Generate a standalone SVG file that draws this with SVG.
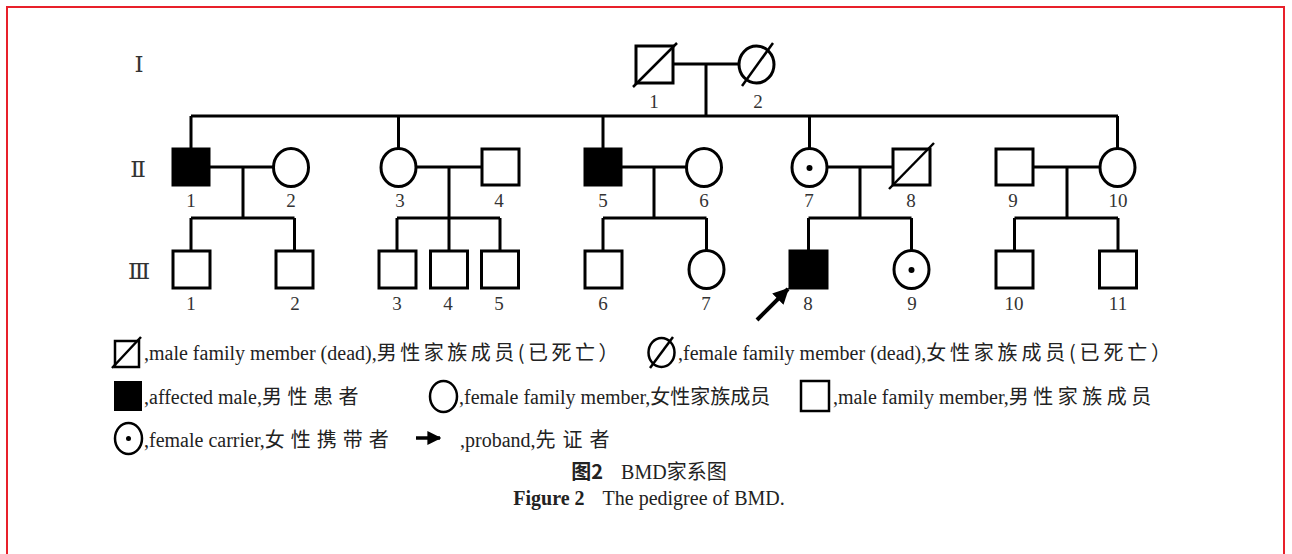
<svg xmlns="http://www.w3.org/2000/svg" width="1292" height="554" viewBox="0 0 1292 554">
<style>
.ln{stroke:#000;stroke-width:3;fill:none}
.sym{stroke:#000;stroke-width:3;fill:#fff}
.aff{stroke:#000;stroke-width:3;fill:#000}
.sl{stroke:#000;stroke-width:2.5}
.dot{fill:#000}
.num{font-family:"Liberation Serif","Noto Sans CJK SC",serif;font-size:19px;fill:#333;text-anchor:middle}
.gen{font-family:"DejaVu Serif","Liberation Serif","Noto Sans CJK SC",serif;font-size:23px;fill:#333;text-anchor:middle}
.lg{font-family:"Liberation Serif","Noto Sans CJK SC",serif;font-size:20px;fill:#222}
.cn{font-family:"Noto Sans CJK SC",sans-serif;font-size:20px;letter-spacing:5px}
.lsym{stroke:#000;stroke-width:2.5;fill:#fff}
.cap{font-family:"Liberation Serif","Noto Sans CJK SC",serif;font-size:20px;fill:#222;text-anchor:middle}
.b{font-weight:bold}
</style>
<defs>
<marker id="ah" viewBox="0 0 10 10" refX="9" refY="5" markerWidth="4" markerHeight="4" orient="auto" markerUnits="strokeWidth">
<path d="M0,0 L10,5 L0,10 Z" fill="#000"/>
</marker>
</defs>
<path d="M7,556 V7 H1284 V556" fill="none" stroke="#e8202a" stroke-width="2"/>

<g id="gen-labels">
<text class="gen" x="139" y="72">Ⅰ</text>
<text class="gen" x="138" y="177">Ⅱ</text>
<text class="gen" x="139" y="279">Ⅲ</text>
</g>

<g id="connectors">
<path class="ln" d="M673,64 H739 M706,64 V116 M191,116 H1118"/>
<path class="ln" d="M191,116 V148 M398.5,116 V148 M603,116 V148 M809.5,116 V148 M1117.5,116 V148"/>
<path class="ln" d="M210,167 H273 M243,167 V218 M191,218 H294.5 M191,218 V251 M294.5,218 V251"/>
<path class="ln" d="M416,167 H482 M449,167 V218 M397,218 H500 M397,218 V251 M449,218 V251 M500,218 V251"/>
<path class="ln" d="M622,167 H686 M654,167 V218 M603,218 H706.5 M603,218 V251 M706.5,218 V250"/>
<path class="ln" d="M827,167 H893 M860,167 V218 M808.5,218 H911.5 M808.5,218 V251 M911.5,218 V250"/>
<path class="ln" d="M1033,167 H1100 M1067,167 V218 M1014.5,218 H1118 M1014.5,218 V251 M1118,218 V251"/>
<line x1="757" y1="320" x2="788" y2="289" stroke="#000" stroke-width="4" marker-end="url(#ah)"/>
</g>

<g id="I-1"><rect class="sym" x="636" y="46" width="37" height="37"/><line class="sl" x1="633" y1="87" x2="677" y2="43"/><text class="num" x="654" y="108">1</text></g>
<g id="I-2"><ellipse class="sym" cx="756.5" cy="64.5" rx="17.5" ry="18.5"/><line class="sl" x1="742" y1="86" x2="773" y2="43"/><text class="num" x="758" y="108">2</text></g>

<g id="II-1"><rect class="aff" x="173" y="149" width="36" height="36"/><text class="num" x="191" y="207">1</text></g>
<g id="II-2"><ellipse class="sym" cx="291" cy="167.5" rx="17.5" ry="19"/><text class="num" x="291" y="207">2</text></g>
<g id="II-3"><ellipse class="sym" cx="398.5" cy="167.5" rx="17.5" ry="19"/><text class="num" x="400" y="207">3</text></g>
<g id="II-4"><rect class="sym" x="482" y="149" width="37" height="36"/><text class="num" x="499" y="207">4</text></g>
<g id="II-5"><rect class="aff" x="585" y="149" width="36" height="36"/><text class="num" x="603" y="207">5</text></g>
<g id="II-6"><ellipse class="sym" cx="704" cy="167.5" rx="17.5" ry="19"/><text class="num" x="704" y="207">6</text></g>
<g id="II-7"><ellipse class="sym" cx="809.5" cy="167.5" rx="17.5" ry="19"/><circle class="dot" cx="809.5" cy="168" r="3"/><text class="num" x="809" y="207">7</text></g>
<g id="II-8"><rect class="sym" x="893" y="149" width="37" height="36"/><line class="sl" x1="889" y1="189" x2="934" y2="143"/><text class="num" x="911" y="207">8</text></g>
<g id="II-9"><rect class="sym" x="996" y="149" width="37" height="36"/><text class="num" x="1013" y="207">9</text></g>
<g id="II-10"><ellipse class="sym" cx="1117.5" cy="167.5" rx="17.5" ry="19"/><text class="num" x="1118" y="207">10</text></g>

<g id="III-1"><rect class="sym" x="173" y="251" width="37" height="37"/><text class="num" x="191" y="310">1</text></g>
<g id="III-2"><rect class="sym" x="276" y="251" width="37" height="37"/><text class="num" x="295" y="310">2</text></g>
<g id="III-3"><rect class="sym" x="379" y="251" width="37" height="37"/><text class="num" x="397" y="310">3</text></g>
<g id="III-4"><rect class="sym" x="430.5" y="251" width="37" height="37"/><text class="num" x="448" y="310">4</text></g>
<g id="III-5"><rect class="sym" x="481.5" y="251" width="37" height="37"/><text class="num" x="499" y="310">5</text></g>
<g id="III-6"><rect class="sym" x="585" y="251" width="37" height="37"/><text class="num" x="603" y="310">6</text></g>
<g id="III-7"><ellipse class="sym" cx="706.5" cy="269.5" rx="17.5" ry="19"/><text class="num" x="706" y="310">7</text></g>
<g id="III-8"><rect class="aff" x="790" y="251" width="37" height="37"/><text class="num" x="808" y="310">8</text></g>
<g id="III-9"><ellipse class="sym" cx="911.5" cy="269.5" rx="17.5" ry="19"/><circle class="dot" cx="911.5" cy="270" r="3"/><text class="num" x="912" y="310">9</text></g>
<g id="III-10"><rect class="sym" x="996" y="251" width="37" height="37"/><text class="num" x="1014" y="310">10</text></g>
<g id="III-11"><rect class="sym" x="1099.5" y="251" width="37" height="37"/><text class="num" x="1118" y="310">11</text></g>

<g id="legend">
<rect class="lsym" x="115" y="341" width="24" height="26"/><line class="sl" x1="112" y1="368" x2="141" y2="337" stroke-width="2"/>
<text class="lg" x="144" y="360">,male family member (dead),<tspan class="cn" style="letter-spacing:3.5px">男性家族成员(已死亡）</tspan></text>
<ellipse class="lsym" cx="661.5" cy="352.5" rx="13" ry="14.5"/><line class="sl" x1="650" y1="368" x2="673" y2="337" stroke-width="2"/>
<text class="lg" x="678" y="360">,female family member (dead),<tspan class="cn" style="letter-spacing:3.8px">女性家族成员(已死亡）</tspan></text>

<rect x="114" y="381" width="28" height="30" fill="#000"/>
<text class="lg" x="144" y="404" font-size="21">,affected male,<tspan class="cn" font-size="20" style="letter-spacing:5.5px">男性患者</tspan></text>
<ellipse class="lsym" cx="443.5" cy="396.5" rx="13.5" ry="15.5"/>
<text class="lg" x="459" y="404" font-size="18.5">,female family member,<tspan class="cn" font-size="20" style="letter-spacing:0px">女性家族成员</tspan></text>
<rect class="lsym" x="801" y="381" width="28" height="30"/>
<text class="lg" x="833" y="404">,male family member,<tspan class="cn" style="letter-spacing:4.5px">男性家族成员</tspan></text>

<ellipse class="lsym" cx="128.5" cy="438.5" rx="13.5" ry="15.5"/><circle class="dot" cx="128.5" cy="438.5" r="2.5"/>
<text class="lg" x="144" y="447" font-size="21">,female carrier,<tspan class="cn" font-size="20" style="letter-spacing:6px">女性携带者</tspan></text>
<line x1="416" y1="438" x2="440" y2="438" stroke="#000" stroke-width="3.5" marker-end="url(#ah)"/>
<text class="lg" x="460" y="447" font-size="21">,proband,<tspan class="cn" font-size="20" style="letter-spacing:7px">先证者</tspan></text>
</g>

<g id="caption">
<text class="cap" x="649" y="479"><tspan class="b" font-family="Noto Sans CJK SC,sans-serif">图2</tspan><tspan dx="18">BMD</tspan><tspan font-family="Noto Sans CJK SC,sans-serif">家系图</tspan></text>
<text class="cap" x="649" y="505"><tspan class="b">Figure 2</tspan><tspan dx="18">The pedigree of BMD.</tspan></text>
</g>
</svg>
